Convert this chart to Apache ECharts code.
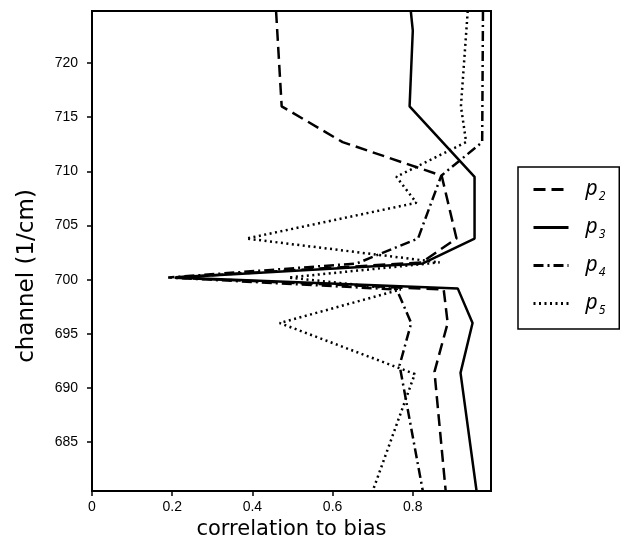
<!DOCTYPE html>
<html>
<head>
<meta charset="utf-8">
<script src="https://cdn.jsdelivr.net/npm/echarts@6/dist/echarts.min.js"></script>
<style>
  html, body { margin: 0; padding: 0; background: #fff; }
  #main { width: 620px; height: 539px; }
</style>
</head>
<body>
<div id="main"></div>
<script>
// vertices: channel (1/cm) and correlation to bias
const p2Channel = [724.8, 716, 712.7, 709.6, 703.8, 701.6, 700.2, 699.1, 696, 691.5, 680.5]
const p2Corr = [0.459, 0.473, 0.625, 0.872, 0.909, 0.822, 0.20, 0.877, 0.887, 0.854, 0.882]

const p3Channel = [724.8, 723, 716, 709.5, 703.8, 701.5, 700.2, 699.2, 696, 691.4, 680.5]
const p3Corr = [0.795, 0.80, 0.792, 0.954, 0.954, 0.825, 0.21, 0.912, 0.949, 0.919, 0.959]

const p4Channel = [724.8, 712.7, 709.6, 703.8, 701.5, 700.2, 699.1, 696, 692.1, 680.5]
const p4Corr = [0.975, 0.973, 0.871, 0.813, 0.66, 0.19, 0.76, 0.796, 0.767, 0.825]

const p5Channel = [724.8, 716, 712.7, 709.5, 707.1, 703.8, 701.6, 700.2, 699.1, 696, 691.3, 680.5]
const p5Corr = [0.937, 0.92, 0.933, 0.759, 0.809, 0.385, 0.867, 0.49, 0.77, 0.468, 0.805, 0.70]

const seriesNames = ['p2', 'p3', 'p4', 'p5']
const subscripts = ['2', '3', '4', '5']

function pairs (corr, channel) {
  return corr.map((c, i) => [c, channel[i]])
}

const lineTypes = [[12, 6], 'solid', [10, 4, 2, 4], [2, 3.5]]
const dataSets = [
  pairs(p2Corr, p2Channel),
  pairs(p3Corr, p3Channel),
  pairs(p4Corr, p4Channel),
  pairs(p5Corr, p5Channel)
]

const myChart = echarts.init(document.getElementById('main'))
const option = {
  animation: false,
  color: ['#000', '#000', '#000', '#000'],
  grid: {
    left: 92,
    top: 11,
    right: 129,
    bottom: 48,
    outerBoundsMode: 'none',
    containLabel: false,
    show: true,
    borderColor: '#000',
    borderWidth: 2
  },
  legend: {
    orient: 'vertical',
    left: 518,
    top: 167,
    padding: [12, 14, 12, 14],
    itemWidth: 35,
    itemHeight: 14,
    itemGap: 14,
    borderColor: '#000',
    borderWidth: 1.5,
    itemStyle: { opacity: 0 },
    lineStyle: { width: 3 },
    data: seriesNames,
    formatter: name => '{p|p}{s|' + subscripts[seriesNames.indexOf(name)] + '}',
    textStyle: {
      padding: [0, 0, 0, 12],
      rich: {
        p: { fontFamily: 'Noto Sans', fontStyle: 'italic', fontSize: 21, color: '#000' },
        s: { fontFamily: 'Noto Sans', fontStyle: 'italic', fontSize: 12, color: '#000', padding: [15, 0, 0, 1] }
      }
    }
  },
  xAxis: {
    type: 'value',
    min: 0,
    max: 0.995,
    minInterval: 0.2,
    maxInterval: 0.2,
    name: 'correlation to bias',
    nameLocation: 'middle',
    nameGap: 23,
    nameTextStyle: { fontFamily: 'DejaVu Sans', fontSize: 21, color: '#000' },
    axisLine: { lineStyle: { color: '#000', width: 2 } },
    axisTick: { show: true, length: 5, lineStyle: { color: '#000', width: 1.5 } },
    axisLabel: {
      showMaxLabel: false,
      margin: 9,
      fontFamily: 'Liberation Sans',
      fontSize: 14,
      color: '#000'
    },
    splitLine: { show: false }
  },
  yAxis: {
    type: 'value',
    min: 680.5,
    max: 724.8,
    minInterval: 5,
    maxInterval: 5,
    name: 'channel (1/cm)',
    nameLocation: 'middle',
    nameGap: 53,
    nameTextStyle: { fontFamily: 'DejaVu Sans', fontSize: 23, color: '#000', padding: [0, 50, 0, 0] },
    axisLine: { lineStyle: { color: '#000', width: 2 } },
    axisTick: { show: true, length: 5, lineStyle: { color: '#000', width: 1.5 } },
    axisLabel: {
      showMinLabel: false,
      showMaxLabel: false,
      margin: 14,
      fontFamily: 'Liberation Sans',
      fontSize: 14,
      color: '#000'
    },
    splitLine: { show: false }
  },
  series: seriesNames.map((name, i) => ({
    name: name,
    type: 'line',
    showSymbol: false,
    symbol: 'none',
    clip: true,
    lineStyle: { color: '#000', width: 2.5, type: lineTypes[i] },
    data: dataSets[i]
  }))
}
myChart.setOption(option)
</script>
</body>
</html>
